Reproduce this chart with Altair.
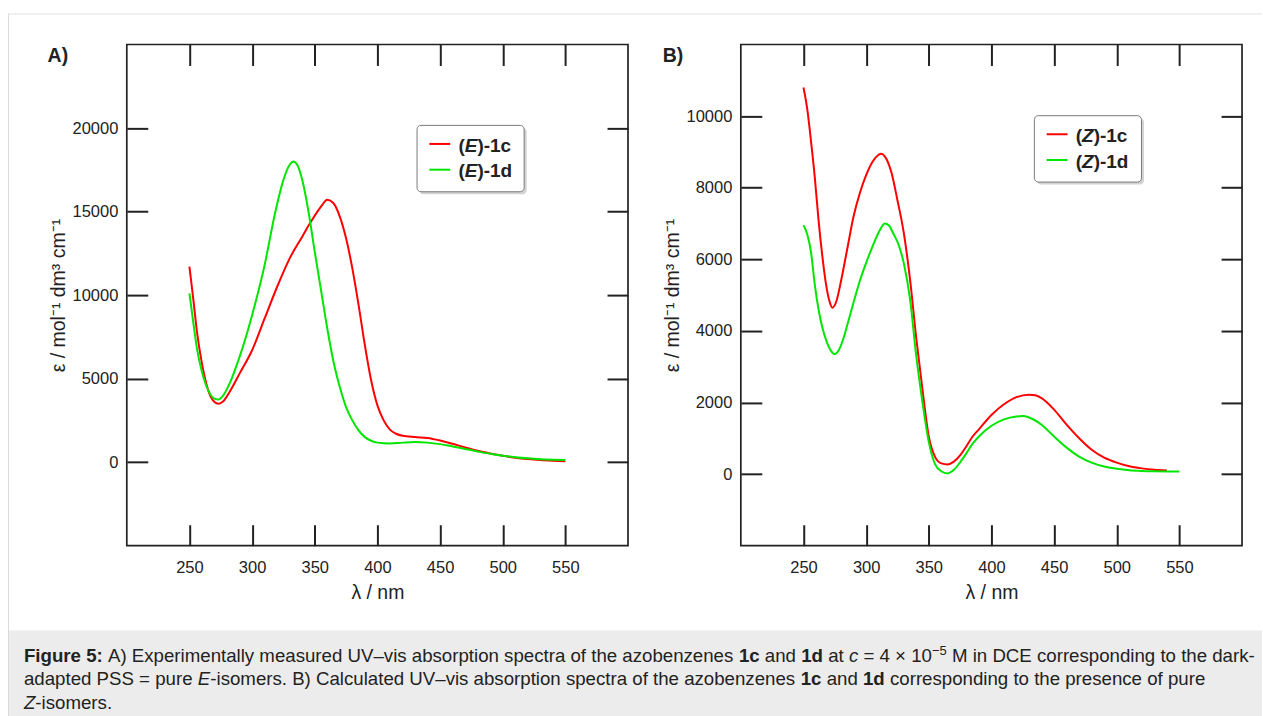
import altair as alt
import pandas as pd

# ------------------------------------------------------------------ data
X_TICKS = [250, 300, 350, 400, 450, 500, 550]
A_Y_TICKS = [0, 5000, 10000, 15000, 20000]
B_Y_TICKS = [0, 2000, 4000, 6000, 8000, 10000]

A_NAMES = ["(E)-1c", "(E)-1d"]
B_NAMES = ["(Z)-1c", "(Z)-1d"]

A_1C_WL = [250, 253, 256, 260, 265, 270, 273, 277, 282, 290, 300, 310, 320, 330, 340,
           347, 355, 360, 365, 370, 375, 380, 385, 390, 395, 400, 405, 410, 415, 420,
           430, 440, 450, 460, 470, 480, 490, 500, 510, 520, 530, 540, 550]
A_1C_EPS = [11700, 9800, 7800, 5900, 4300, 3600, 3500, 3650, 4200, 5300, 6700, 8600, 10500,
            12200, 13500, 14400, 15300, 15700, 15500, 14700, 13400, 11600, 9400, 7000, 4900,
            3400, 2500, 1950, 1700, 1580, 1500, 1450, 1300, 1100, 880, 680, 520, 380, 270,
            190, 130, 90, 60]

A_1D_WL = [250, 253, 256, 260, 265, 270, 273, 277, 282, 290, 300, 310, 318, 325, 330, 333,
           336, 340, 345, 350, 355, 360, 365, 370, 375, 380, 385, 390, 395, 400, 410, 420,
           430, 440, 450, 460, 470, 480, 490, 500, 510, 520, 530, 540, 550]
A_1D_EPS = [10100, 8400, 6800, 5400, 4300, 3800, 3750, 4000, 4700, 6300, 8800, 11800, 14800,
            16900, 17800, 18000, 17800, 16900, 15000, 12600, 10300, 8000, 6000, 4500, 3300,
            2500, 1900, 1500, 1280, 1170, 1120, 1170, 1210, 1170, 1080, 940, 790, 640, 500,
            390, 300, 230, 180, 150, 130]

B_1C_WL = [250, 253, 256, 259, 262, 265, 268, 271, 273, 276, 280, 285, 290, 295, 300, 305,
           310, 312, 315, 320, 325, 330, 335, 340, 345, 350, 355, 360, 365, 370, 375, 380,
           385, 390, 400, 410, 420, 430, 435, 440, 450, 460, 470, 480, 490, 500, 510, 520,
           530, 540]
B_1C_EPS = [10800, 10200, 9300, 8300, 7100, 6100, 5300, 4800, 4650, 4800, 5400, 6300, 7200,
            7850, 8350, 8720, 8920, 8950, 8870, 8450, 7650, 6750, 5450, 3800, 2350, 1050, 480,
            300, 270, 350, 520, 780, 1050, 1250, 1650, 1950, 2150, 2220, 2200, 2120, 1800,
            1380, 1000, 680, 460, 320, 220, 160, 120, 100]

B_1D_WL = [250, 253, 256, 259, 262, 265, 268, 271, 275, 278, 282, 286, 290, 295, 300, 305,
           310, 315, 318, 322, 326, 330, 335, 340, 345, 350, 355, 360, 365, 370, 375, 380,
           385, 390, 400, 410, 420, 425, 430, 440, 450, 460, 470, 480, 490, 500, 510, 520,
           530, 540, 550]
B_1D_EPS = [6950, 6700, 6200, 5300, 4600, 4100, 3750, 3500, 3350, 3450, 3800, 4300, 4800,
            5400, 5900, 6350, 6750, 7000, 6950, 6700, 6400, 5900, 4900, 3300, 2000, 900, 280,
            80, 20, 120, 330, 580, 850, 1050, 1350, 1530, 1610, 1620, 1580, 1380, 1050, 740,
            490, 320, 210, 150, 110, 90, 80, 75, 70]

CAPTION = [
    [("Figure 5:", "b"), (" A) Experimentally measured UV\u2013vis absorption spectra of the azobenzenes ", "n"),
     ("1c", "b"), (" and ", "n"), ("1d", "b"), (" at ", "n"), ("c", "i"), (" = 4 \u00d7 10", "n"),
     ("\u22125", "sup"), (" M in DCE corresponding to the dark-", "n")],
    [("adapted PSS = pure ", "n"), ("E", "i"),
     ("-isomers. B) Calculated UV\u2013vis absorption spectra of the azobenzenes ", "n"),
     ("1c", "b"), (" and ", "n"), ("1d", "b"), (" corresponding to the presence of pure", "n")],
    [("Z", "i"), ("-isomers.", "n")],
]

# ------------------------------------------------------------------ style
FONT = "Liberation Sans"
INK = "#222222"
RED = "#ff0000"
GREEN = "#00e600"
TICK = 21
PW, PH = 502, 502          # plot area of each panel
OX, OY = 126, 43           # absolute origin of panel A plot area

# Helvetica / Arial advance widths (1/1000 em) for text layout of rich text
_REG = {" ": 278, "(": 333, ")": 333, "-": 333, ".": 278, ":": 278, "=": 584,
        "\u2013": 556, "\u00d7": 584, "\u2212": 584,
        "A": 667, "B": 667, "C": 722, "D": 722, "E": 667, "F": 611, "M": 833, "P": 667,
        "S": 667, "U": 722, "V": 667, "Z": 611,
        "a": 556, "b": 556, "c": 500, "d": 556, "e": 556, "f": 278, "g": 556, "h": 556,
        "i": 222, "k": 500, "l": 222, "m": 833, "n": 556, "o": 556, "p": 556, "r": 333,
        "s": 500, "t": 278, "u": 556, "v": 500, "x": 500, "y": 500, "z": 500}
_BOLD = {" ": 278, "(": 333, ")": 333, "-": 333, ":": 333, "E": 667, "F": 611, "Z": 611,
         "c": 556, "d": 611, "e": 556, "g": 611, "i": 278, "r": 389, "u": 611, "A": 722,
         "B": 722}


def text_w(s, size, bold=False):
    tab = _BOLD if bold else _REG
    return sum(tab.get(ch, 556) for ch in s) * size / 1000.0


ONE = pd.DataFrame({"k": [0]})


def txt(x, y, s, size, weight="normal", style="normal", color=INK):
    return alt.Chart(ONE).mark_text(
        text=s, font=FONT, fontSize=size, fontWeight=weight, fontStyle=style,
        align="left", baseline="alphabetic", color=color,
    ).encode(x=alt.value(x), y=alt.value(y))


def box(x, x2, y, y2, **kw):
    return alt.Chart(ONE).mark_rect(**kw).encode(
        x=alt.value(x), x2=alt.value(x2), y=alt.value(y), y2=alt.value(y2))


def hrule(x, x2, y, color, width):
    return alt.Chart(ONE).mark_rule(color=color, strokeWidth=width).encode(
        x=alt.value(x), x2=alt.value(x2), y=alt.value(y))


def series_frame(wl, eps, name):
    return pd.DataFrame({"wl": wl, "eps": eps, "series": name})


def legend_layers(bx, by, names, letter):
    out = [
        box(bx + 2.5, bx + 107.3 + 2.5, by + 2.5, by + 66.5 + 2.5,
            fill="#b5b5b5", opacity=0.6, cornerRadius=4),
        box(bx, bx + 107.3, by, by + 66.5, fill="white", stroke="#7a7a7a",
            strokeWidth=1, cornerRadius=4),
    ]
    size = 19
    for i, (name, colr) in enumerate(zip(names, [RED, GREEN])):
        ly = by + 18.6 + i * 25.8
        out.append(hrule(bx + 12.3, bx + 33.2, ly, colr, 2))
        tx = bx + 41.5
        base = ly + 7.6
        suffix = name.split(")")[1]
        out.append(txt(tx, base, "(", size, weight="bold"))
        tx += text_w("(", size, True)
        out.append(txt(tx, base, letter, size, weight="bold", style="italic"))
        tx += text_w(letter, size, True)
        out.append(txt(tx, base, ")" + suffix, size, weight="bold"))
    return out


def caption_layers():
    out = []
    size, sup_size = 18.7, 13
    baselines = [661, 685, 709]
    for line, base in zip(CAPTION, baselines):
        x = 23.0
        for seg, st in line:
            sz = sup_size if st == "sup" else size
            bold = st == "b"
            stripped = seg.lstrip(" ")
            lead = text_w(seg[: len(seg) - len(stripped)], sz, bold)
            y = base - 7 if st == "sup" else base
            out.append(txt(x + lead - OX, y - OY, stripped.rstrip(" "), sz,
                           weight="bold" if bold else "normal",
                           style="italic" if st == "i" else "normal"))
            x += text_w(seg, sz, bold)
    return out


def panel(df, names, ydom, yticks, letter, tag, box_xy, extra):
    xs = alt.Scale(domain=[200, 600], nice=False, zero=False)
    ys = alt.Scale(domain=ydom, nice=False, zero=False)
    col = alt.Color("series:N", scale=alt.Scale(domain=names, range=[RED, GREEN]), legend=None)
    curves = alt.Chart(df).mark_line(strokeWidth=2, interpolate="monotone").encode(
        x=alt.X("wl:Q", scale=xs, axis=alt.Axis(
            orient="bottom", values=X_TICKS, format="d", title="\u03bb / nm",
            offset=-TICK, tickSize=TICK, labelPadding=13.5, titlePadding=8,
            domain=False, grid=False)),
        y=alt.Y("eps:Q", scale=ys, axis=alt.Axis(
            orient="left", values=yticks, format="d",
            title="\u03b5 / mol\u207b\u00b9 dm\u00b3 cm\u207b\u00b9",
            offset=-TICK, tickSize=TICK, labelPadding=9, titlePadding=3.5,
            domain=False, grid=False)),
        color=col,
    )
    ghost = alt.Chart(df).mark_line(opacity=0).encode(
        x=alt.X("wl:Q", scale=xs, axis=alt.Axis(
            orient="top", values=X_TICKS, labels=False, title=None,
            offset=-TICK, tickSize=TICK, domain=False, grid=False)),
        y=alt.Y("eps:Q", scale=ys, axis=alt.Axis(
            orient="right", values=yticks, labels=False, title=None,
            offset=-TICK, tickSize=TICK, domain=False, grid=False)),
        detail="series:N",
    )
    layers = list(extra) + [curves, ghost]
    layers += legend_layers(box_xy[0], box_xy[1], names, letter)
    layers.append(txt(tag[1], 18, tag[0], 19.5, weight="bold"))
    return alt.layer(*layers).resolve_axis(x="independent", y="independent").properties(
        width=PW, height=PH)


df_a = pd.concat([series_frame(A_1C_WL, A_1C_EPS, A_NAMES[0]),
                  series_frame(A_1D_WL, A_1D_EPS, A_NAMES[1])], ignore_index=True)
df_b = pd.concat([series_frame(B_1C_WL, B_1C_EPS, B_NAMES[0]),
                  series_frame(B_1D_WL, B_1D_EPS, B_NAMES[1])], ignore_index=True)

# page decorations (caption box + thin page border), drawn in panel A's frame
decor = [
    box(7 - OX, 1263 - OX, 630 - OY, 716 - OY, fill="#ececec"),
    box(7 - OX, 8 - OX, 12 - OY, 716 - OY, fill="#dadada"),
    box(7 - OX, 1263 - OX, 12 - OY, 13 - OY, fill="#e2e2e2"),
] + caption_layers()

panel_a = panel(df_a, A_NAMES, [-5000, 25000], A_Y_TICKS, "E", ("A)", -79.3),
                (416.7 - OX, 124 - OY), decor)
panel_b = panel(df_b, B_NAMES, [-2000, 12000], B_Y_TICKS, "Z", ("B)", -78.3),
                (1035 - 741, 114.3 - OY), [])

chart = alt.hconcat(panel_a, panel_b, spacing=113, bounds="flush").properties(
    padding={"left": 7, "top": 12, "right": 0, "bottom": 0},
).configure_view(
    stroke=INK, strokeWidth=1.7,
).configure_axis(
    labelFont=FONT, labelFontSize=16.5, labelColor=INK, labelFlush=False,
    tickColor=INK, tickWidth=2,
    titleFont=FONT, titleFontSize=19.5, titleFontWeight="normal", titleColor=INK,
)

chart.save("out.html", embed_options={"renderer": "svg", "actions": False})
